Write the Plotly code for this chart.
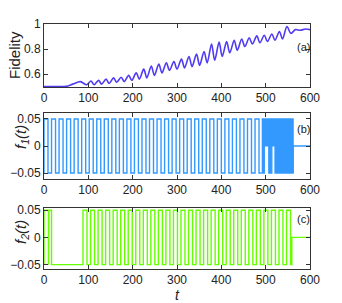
import plotly.graph_objects as go

# ---------------- data ----------------
# Fidelity: extrema
fid_t = [0, 30, 50, 65, 82, 96, 106, 113, 123, 130, 140, 147, 157, 164, 174, 181, 191, 198,
         208, 215, 225, 232, 242, 249, 259, 266, 276, 283, 293, 300, 310, 317, 327, 334,
         344, 351, 361, 368, 378, 385, 395, 402, 412, 419, 429, 436, 446, 453, 463, 470,
         480, 487, 497, 504, 514, 521, 531, 538, 548, 557, 567, 578, 590, 600]
fid_v = [0.5, 0.5, 0.502, 0.52, 0.54, 0.515, 0.545, 0.515, 0.55, 0.52, 0.56, 0.525, 0.57, 0.535,
         0.575, 0.54, 0.59, 0.55, 0.61, 0.56, 0.64, 0.57, 0.665, 0.59, 0.68, 0.61, 0.69, 0.63,
         0.70, 0.64, 0.72, 0.65, 0.74, 0.66, 0.76, 0.67, 0.78, 0.69, 0.84, 0.71, 0.855, 0.74,
         0.86, 0.77, 0.87, 0.79, 0.88, 0.82, 0.89, 0.84, 0.905, 0.85, 0.91, 0.86, 0.92, 0.87,
         0.94, 0.88, 0.98, 0.925, 0.955, 0.95, 0.96, 0.955]

# f1(t): regular pulses (rise / fall times), burst envelope, amplitude
amp = 0.05
f1_rise = [0, 17, 34, 51, 68, 85, 102, 119, 136, 153, 170, 187, 204, 221, 238, 255, 272,
           289, 306, 323, 340, 357, 374, 391, 408, 425, 442, 459, 476]
f1_fall = [9, 26, 43, 60, 77, 94, 111, 128, 145, 162, 179, 196, 213, 230, 247, 264, 281,
           298, 315, 332, 349, 366, 383, 400, 417, 434, 451, 468, 485]
burst_t = [491, 497, 497, 507, 507, 514, 514, 521, 521, 562]
burst_low = [-0.05, -0.05, 0, 0, -0.05, -0.05, 0, 0, -0.05, -0.05]
f1_end = 562

# f2(t)
f2_rise = [0, 11, 88, 105, 122, 139, 156, 173, 190, 207, 224, 241, 258, 275, 292, 309, 326,
           343, 360, 377, 394, 411, 428, 445, 462, 479, 496, 513, 530, 547]
f2_fall = [10, 17, 97, 114, 131, 148, 165, 182, 199, 216, 233, 250, 267, 284, 301, 318, 335,
           352, 369, 386, 403, 420, 437, 454, 471, 488, 505, 522, 539, 556]
f2_end = 559
t_max = 600

x_ticks = [0, 100, 200, 300, 400, 500, 600]


def pulses(rises, falls):
    xs, ys = [], []
    for r, f in zip(rises, falls):
        xs += [r, r, f, f]
        ys += [-amp, amp, amp, -amp]
    return xs, ys


fig = go.Figure()

# (a)
fig.add_trace(go.Scatter(x=fid_t, y=fid_v, mode="lines",
                         line=dict(color="rgb(80,60,240)", width=1.6, shape="spline", smoothing=0.9),
                         xaxis="x", yaxis="y", showlegend=False))

# (b)
c1 = "rgb(51,153,255)"
x1, y1 = pulses(f1_rise, f1_fall)
x1 += [burst_t[0]]
y1 += [-amp]
fig.add_trace(go.Scatter(x=x1, y=y1, mode="lines", line=dict(color=c1, width=1.4),
                         xaxis="x2", yaxis="y2", showlegend=False))
bx = [burst_t[0], burst_t[-1]] + burst_t[::-1]
by = [amp, amp] + burst_low[::-1]
fig.add_trace(go.Scatter(x=bx, y=by, mode="lines", fill="toself", fillcolor=c1,
                         line=dict(color=c1, width=1.2), xaxis="x2", yaxis="y2", showlegend=False))
fig.add_trace(go.Scatter(x=[f1_end, f1_end, t_max], y=[-amp, 0, 0], mode="lines",
                         line=dict(color=c1, width=1.4), xaxis="x2", yaxis="y2", showlegend=False))

# (c)
c2 = "rgb(102,255,0)"
x2, y2 = pulses(f2_rise, f2_fall)
x2 += [f2_end, f2_end, t_max]
y2 += [-amp, 0, 0]
fig.add_trace(go.Scatter(x=x2, y=y2, mode="lines", line=dict(color=c2, width=1.4),
                         xaxis="x3", yaxis="y3", showlegend=False))

W, H = 342.0, 303.0
L, R = 44, 32
PW = W - L - R


def px(xp):
    return (xp - L) / PW


def py(yp):
    return 1 - yp / H


axis_common = dict(showline=True, linecolor="#333", linewidth=1, mirror="allticks",
                   ticks="inside", ticklen=4, tickcolor="#333", showgrid=False, zeroline=False,
                   automargin=False,
                   tickfont=dict(family="Liberation Sans, Arial", size=12, color="#222"))

title_font = dict(family="Liberation Sans, Arial", size=15, color="#222")

fig.update_layout(
    width=342, height=303,
    margin=dict(l=L, r=R, t=0, b=0),
    paper_bgcolor="white", plot_bgcolor="white",
    font=dict(family="Liberation Sans, Arial", color="#222"),
    xaxis=dict(domain=[0, 1], range=[0, 600], tickvals=x_ticks, anchor="y", **axis_common),
    yaxis=dict(domain=[py(87), py(24)], range=[0.497, 1.0], tickvals=[0.6, 0.8, 1.0],
               ticktext=["0.6", "0.8", "1"], anchor="x", **axis_common),
    xaxis2=dict(domain=[0, 1], range=[0, 600], tickvals=x_ticks, anchor="y2", **axis_common),
    yaxis2=dict(domain=[py(179), py(113)], range=[-0.061, 0.061],
                tickvals=[-0.05, 0, 0.05], ticktext=["\u22120.05", "0", "0.05"], anchor="x2",
                **axis_common),
    xaxis3=dict(domain=[0, 1], range=[0, 600], tickvals=x_ticks, anchor="y3", **axis_common),
    yaxis3=dict(domain=[py(269), py(208)], range=[-0.058, 0.054],
                tickvals=[-0.05, 0, 0.05], ticktext=["\u22120.05", "0", "0.05"], anchor="x3",
                **axis_common),
    annotations=[
        dict(text="Fidelity", xref="paper", yref="paper", x=px(15), y=py(55), textangle=-90,
             showarrow=False, font=title_font, xanchor="center", yanchor="middle"),
        dict(text="<i>f<sub>1</sub>(t)</i>", xref="paper", yref="paper", x=px(21), y=py(137),
             textangle=-90, showarrow=False, font=title_font, xanchor="center", yanchor="middle"),
        dict(text="<i>f<sub>2</sub>(t)</i>", xref="paper", yref="paper", x=px(21), y=py(232),
             textangle=-90, showarrow=False, font=title_font, xanchor="center", yanchor="middle"),
        dict(text="<i>t</i>", xref="paper", yref="paper", x=px(177), y=py(295),
             showarrow=False, font=dict(family="Liberation Sans, Arial", size=14, color="#222"),
             xanchor="center", yanchor="middle"),
        dict(text="(a)", xref="x", yref="y", x=585, y=0.82, showarrow=False,
             font=dict(size=11, color="#222")),
        dict(text="(b)", xref="x2", yref="y2", x=585, y=0.032, showarrow=False,
             font=dict(size=11, color="#222")),
        dict(text="(c)", xref="x3", yref="y3", x=585, y=0.034, showarrow=False,
             font=dict(size=11, color="#222")),
    ],
)

fig.write_html("out.html", config={"displayModeBar": False},
               post_script="document.body.style.margin='0';document.body.style.overflow='hidden';")
